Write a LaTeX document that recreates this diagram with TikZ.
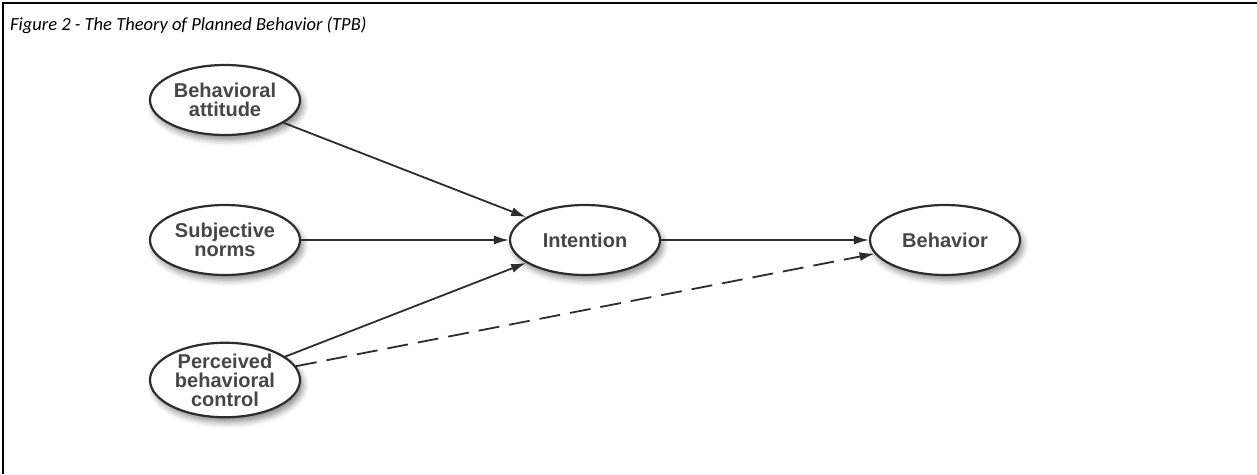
\documentclass[tikz,border=0pt]{standalone}
\usepackage{fontspec}
\setmainfont{Carlito}
\newfontfamily\ovalfont{Liberation Sans}
\usepackage{xcolor}
\definecolor{ink}{RGB}{45,45,45}
\definecolor{label-gray}{RGB}{70,70,70}
\usepackage{tikz}
\usetikzlibrary{shapes.geometric,arrows.meta,shadows.blur}

\begin{document}
\begin{tikzpicture}[
    x=1pt, y=-1pt,
    construct/.style={
        ellipse,
        draw=ink,
        line width=2.2pt,
        fill=white,
        minimum width=150pt,
        minimum height=70pt,
        inner sep=0pt,
        align=center,
        text=label-gray,
        font=\ovalfont\bfseries\fontsize{20}{19}\selectfont,
        blur shadow={shadow xshift=3pt, shadow yshift=-5pt, shadow blur radius=6pt, shadow opacity=45}
    },
    link/.style={draw=ink, line width=1.8pt, -{Latex[length=15pt,width=9pt]}},
    hunch/.style={link, dash pattern=on 21pt off 10pt}
]

\useasboundingbox (0,0) rectangle (1257,474);

% Page frame, top and left rules only
\draw[black, line width=2pt] (3,474) -- (3,3) -- (1257,3);

% Caption
\node[anchor=base west, inner sep=0pt, font=\itshape\fontsize{18.5}{22}\selectfont]
    (caption) at (10,30) {Figure 2 - The Theory of Planned Behavior (TPB)};

% Determinants (left column)
\node[construct] (attitude) at (225,100) {Behavioral\\attitude};
\node[construct] (norms)    at (225,240) {Subjective\\norms};
\node[construct] (control)  at (225,380) {Perceived\\behavioral\\control};

% Intention and behavior
\node[construct] (intention) at (585,240) {Intention};
\node[construct] (behavior)  at (945,240) {Behavior};

% Paths
\draw[link] (attitude) -- (intention);
\draw[link] (norms) -- (intention);
\draw[link] (control) -- (intention);
\draw[link] (intention) -- (behavior);
\draw[hunch] (control) -- (behavior);

\end{tikzpicture}
\end{document}
